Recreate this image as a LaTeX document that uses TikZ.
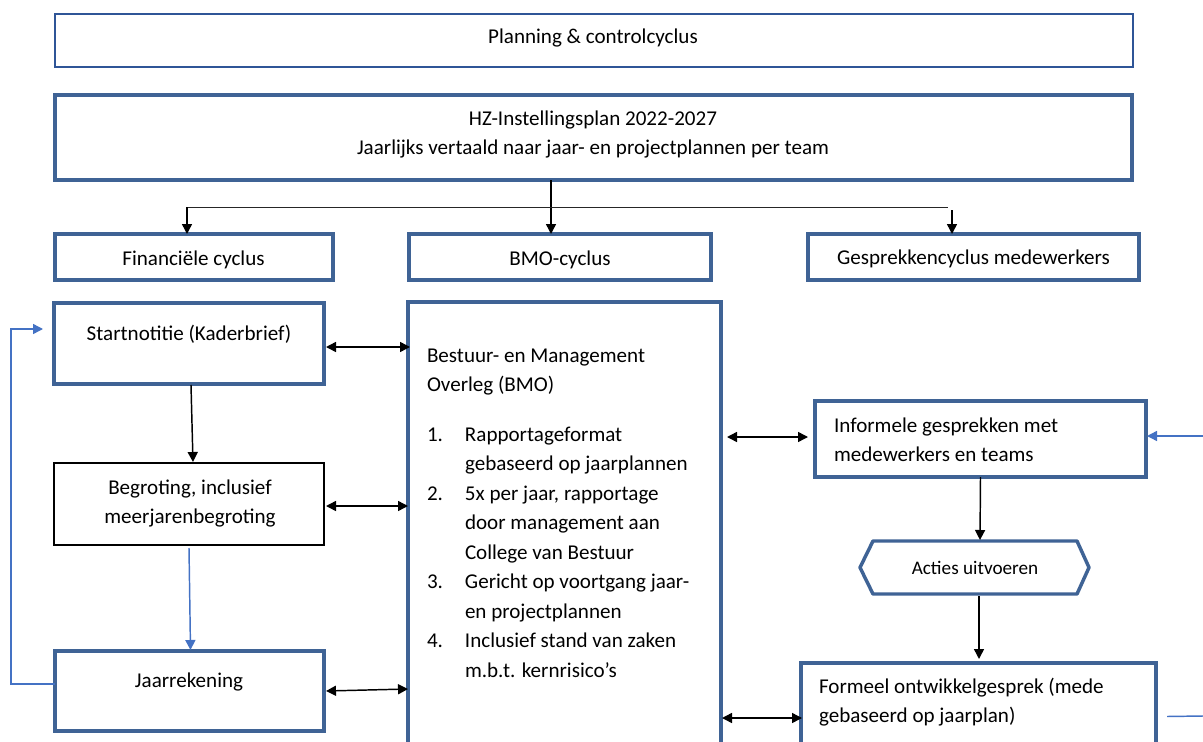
\documentclass[tikz,border=0pt]{standalone}
\usepackage{fontspec}
\setmainfont{Carlito}
\usetikzlibrary{arrows.meta,calc}
\definecolor{boxblue}{HTML}{3F6395}
\definecolor{planblue}{HTML}{2F5597}
\definecolor{arrblue}{HTML}{4472C4}
\begin{document}
\begin{tikzpicture}[x=0.75pt,y=-0.75pt,
  sz/.style 2 args={minimum width=#1*0.75pt, minimum height=#2*0.75pt},
  box/.style={draw=boxblue, line width=2.6pt, rectangle, inner sep=0pt, outer sep=0pt, fill=white},
  planbox/.style={draw=planblue, line width=1.5pt, rectangle, inner sep=0pt, outer sep=0pt},
  thinbox/.style={draw=black, line width=1.4pt, rectangle, inner sep=0pt, outer sep=0pt},
  bigbox/.style={draw=boxblue, line width=2.3pt, rectangle, inner sep=0pt, outer sep=0pt},
  txt/.style={inner sep=0pt, outer sep=0pt, anchor=base, font=\fontsize{15.8}{22.1}\selectfont},
  ltxt/.style={txt, anchor=base west},
  arr/.style={-{Triangle[length=7.5pt,width=7.5pt]}, line width=1.1pt, black},
  darr/.style={{Triangle[length=7.5pt,width=7.5pt]}-{Triangle[length=7.5pt,width=7.5pt]}, line width=1.1pt, black},
  barr/.style={-{Triangle[length=7.5pt,width=7.5pt]}, line width=1.1pt, arrblue},
  bline/.style={line width=1.1pt, arrblue},
  tline/.style={line width=0.7pt, black!85}
]
\useasboundingbox (0,0) rectangle (1203,742);

% boxes
\node[planbox, sz={1078}{53}] (plan) at (594,40.5) {};
\node[box, sz={1077}{85}] (hz) at (593.5,137.5) {};
\node[box, sz={278}{46}] (fin) at (194,257) {};
\node[box, sz={302}{46}] (bmoc) at (560,257) {};
\node[box, sz={331}{46}] (gesp) at (973.5,257) {};
\node[box, sz={270}{81}] (start) at (189,343.5) {};
\node[thinbox, sz={270}{82}] (begr) at (189,504) {};
\node[box, sz={269}{80}] (jaar) at (189.5,691) {};
\node[bigbox, sz={313}{458}] (bmo) at (564.5,531) {};
\node[box, sz={331}{76}] (inf) at (980.5,439) {};
\node[inner sep=0pt, outer sep=0pt, sz={229}{53}] (acties) at (974.5,567.5) {};
\draw[boxblue, line width=2.6pt, line join=round]
  (acties.west) -- ($(acties.north west)+(13,0)$) -- ($(acties.north east)+(-12,0)$)
  -- (acties.east) -- ($(acties.south east)+(-12,0)$) -- ($(acties.south west)+(13,0)$) -- cycle;
\node[box, sz={355}{107}] (form) at (978.5,716.5) {};

% texts
\node[txt] (tplan) at (593,44) {Planning \& controlcyclus};
\node[txt] (thz) at (593,125) {\begin{tabular}[t]{@{}c@{}}HZ-Instellingsplan 2022-2027\\Jaarlijks vertaald naar jaar- en projectplannen per team\end{tabular}};
\node[txt] (tfin) at (193.5,265) {Financiële cyclus};
\node[txt] (tbmoc) at (560,265) {BMO-cyclus};
\node[txt] (tgesp) at (973.5,264) {Gesprekkencyclus medewerkers};
\node[txt] (tstart) at (189,340) {Startnotitie (Kaderbrief)};
\node[txt] (tbegr) at (190,494) {\begin{tabular}[t]{@{}c@{}}Begroting, inclusief\\meerjarenbegroting\end{tabular}};
\node[txt] (tjaar) at (189,687) {Jaarrekening};
\node[ltxt] (tbmo) at (427,362) {\begin{tabular}[t]{@{}p{28.5pt}@{}l@{}}
\multicolumn{2}{@{}l@{}}{Bestuur- en Management}\\
\multicolumn{2}{@{}l@{}}{Overleg (BMO)}\\[15.4pt]
1. & Rapportageformat\\
   & gebaseerd op jaarplannen\\
2. & 5x per jaar, rapportage\\
   & door management aan\\
   & College van Bestuur\\
3. & Gericht op voortgang jaar-\\
   & en projectplannen\\
4. & Inclusief stand van zaken\\
   & m.b.t. kernrisico’s
\end{tabular}};
\node[ltxt] (tinf) at (834,432) {\begin{tabular}[t]{@{}l@{}}Informele gesprekken met\\medewerkers en teams\end{tabular}};
\node[txt, font=\fontsize{14.4}{16}\selectfont] (tacties) at (975,574) {Acties uitvoeren};
\node[ltxt] (tform) at (819,693) {\begin{tabular}[t]{@{}l@{}}Formeel ontwikkelgesprek (mede\\gebaseerd op jaarplan)\end{tabular}};

% top connectors
\draw[arr] ($(hz.south)+(-42.5,0)$) -- ($(bmoc.north)+(-9,0)$);
\draw[tline] ($(fin.north)+(-7,-27)$) -- ($(gesp.north)+(-25.5,-27)$);
\draw[arr] ($(fin.north)+(-7,-27)$) -- ($(fin.north)+(-7,0)$);
\draw[arr] ($(gesp.north)+(-21.5,-24)$) -- ($(gesp.north)+(-21.5,0)$);

% financial column
\draw[arr] ($(start.south)+(2,1)$) -- ($(begr.north)+(4,-1)$);
\draw[barr] ($(begr.south)+(0,3)$) -- ($(jaar.north)+(1,-1)$);
\draw[barr] ($(jaar.west)+(0,-7)$) -| ($(start.west)+(-43,-14.5)$) -- ($(start.west)+(-11,-14.5)$);

% double arrows to BMO
\draw[darr] ($(start.east)+(2,3.5)$) -- ($(bmo.west)+(2,-184)$);
\draw[darr] ($(begr.east)+(2,2)$) -- ($(bmo.west)+(0,-25)$);
\draw[darr] ($(jaar.east)+(2,0)$) -- ($(bmo.west)+(0,158)$);
\draw[darr] ($(bmo.east)+(6,-94)$) -- ($(inf.west)+(-7,-2)$);
\draw[darr] ($(bmo.east)+(1,187)$) -- ($(form.west)+(1,1.5)$);

% right column
\coordinate (rin) at (1203,436);
\coordinate (rout) at (1203,716);
\draw[barr] (rin) -- ($(inf.east)+(1,-3)$);
\draw[bline] ($(form.east)+(11,0)$) -- (rout);
\draw[arr] (inf.south) -- ($(acties.north)+(5.5,-1)$);
\draw[arr] ($(acties.south)+(4.5,2)$) -- ($(form.north)+(0.5,-4)$);
\end{tikzpicture}
\end{document}
